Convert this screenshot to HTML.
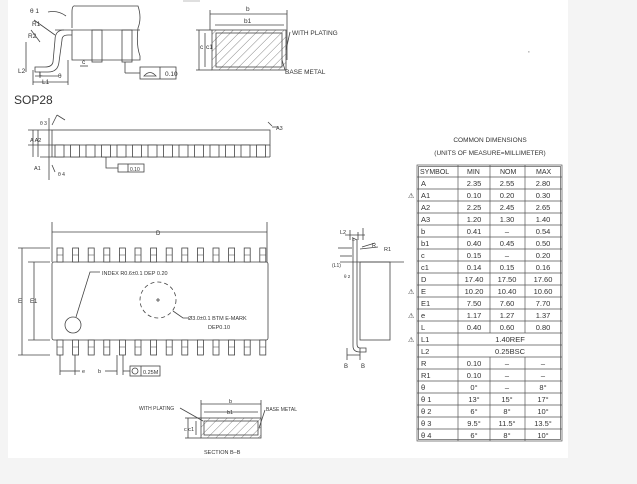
<!DOCTYPE html>
<html><head><meta charset="utf-8"><style>
html,body{margin:0;padding:0;background:#f4f4f4;width:637px;height:484px;overflow:hidden}
svg{display:block}
text{font-family:"Liberation Sans",sans-serif;fill:#333}
</style></head><body>
<svg width="637" height="484" viewBox="0 0 637 484" xmlns="http://www.w3.org/2000/svg">
<defs>
<pattern id="h" width="6" height="6" patternUnits="userSpaceOnUse" patternTransform="rotate(45)">
<line x1="0" y1="0" x2="0" y2="6" stroke="#555" stroke-width="0.7"/></pattern>
</defs>
<rect x="8" y="0" width="560" height="458" fill="#fff"/>
<g stroke="#444" stroke-width="0.8" fill="none">
<path d="M75 6 Q72 5 72 12 L72 28"/>
<path d="M75 6 L138 6 Q142 18 138 28 Q136 45 140 56 L140 60 L72 60 L72 30"/>
<line x1="55" y1="30" x2="140" y2="30"/>
<rect x="92" y="30" width="10" height="32"/>
<rect x="122" y="30" width="10" height="32"/>
<path d="M64 30 Q55 30 55 40 L53 62 Q52 67 45 67 L35 67 L35 72 L48 72 Q58 72 59 62 L62 40 Q62 35 68 35 L72 35"/>
<line x1="68" y1="60" x2="68" y2="85"/>
<line x1="33" y1="70" x2="33" y2="85"/>
<line x1="33" y1="82" x2="68" y2="82"/>
<line x1="40" y1="72" x2="40" y2="78"/>
<line x1="35" y1="76" x2="58" y2="76"/>
<line x1="26" y1="42" x2="26" y2="72"/>
<line x1="31" y1="30" x2="40" y2="42"/>
<line x1="34" y1="20" x2="55" y2="35"/>
<path d="M48 12 Q58 10 66 16"/>
<rect x="140" y="67" width="36" height="12"/>
<line x1="160" y1="67" x2="160" y2="79"/>
<path d="M144 76 Q150 69 156 76 Z"/>
<line x1="125" y1="62" x2="125" y2="73"/><line x1="125" y1="73" x2="140" y2="73"/>
<line x1="80" y1="66" x2="88" y2="66"/>
<line x1="183" y1="1" x2="200" y2="1" stroke="#aaa"/>
<rect x="212" y="30" width="74" height="40" fill="url(#h)"/>
<rect x="216" y="33" width="66" height="34"/>
<line x1="210" y1="14" x2="287" y2="14"/>
<line x1="210" y1="10" x2="210" y2="30"/><line x1="287" y1="10" x2="287" y2="60"/>
<line x1="215" y1="25" x2="284" y2="25"/>
<line x1="196" y1="30" x2="212" y2="30"/><line x1="196" y1="70" x2="212" y2="70"/>
<line x1="199" y1="30" x2="199" y2="70"/><line x1="205" y1="33" x2="205" y2="67"/>
<line x1="290" y1="32" x2="286" y2="50"/>
<line x1="282" y1="60" x2="285" y2="70"/>
<rect x="52" y="130" width="218" height="15"/>
<line x1="52" y1="145" x2="52" y2="157"/>
<line x1="270" y1="145" x2="270" y2="157"/>
<line x1="40" y1="157" x2="270" y2="157"/>
<line x1="28" y1="130" x2="52" y2="130"/>
<line x1="28" y1="145" x2="52" y2="145"/>
<line x1="33" y1="130" x2="33" y2="157"/>
<line x1="38" y1="130" x2="38" y2="157"/>
<line x1="49" y1="118" x2="49" y2="180"/>
<line x1="52" y1="125" x2="57" y2="115"/><line x1="57" y1="115" x2="65" y2="120"/>
<line x1="52" y1="165" x2="55" y2="172"/>
<line x1="268" y1="122" x2="272" y2="126"/><line x1="272" y1="127" x2="278" y2="127"/>
<path d="M106 157 L106 168 L118 168"/>
<rect x="118" y="164" width="26" height="8"/><line x1="128" y1="164" x2="128" y2="172"/>
<rect x="52" y="262" width="216" height="78" rx="2"/>
<line x1="52" y1="222" x2="52" y2="262"/><line x1="267" y1="222" x2="267" y2="262"/>
<line x1="52" y1="232" x2="267" y2="232"/>
<line x1="18" y1="248" x2="50" y2="248"/><line x1="18" y1="355" x2="50" y2="355"/>
<line x1="28" y1="262" x2="50" y2="262"/><line x1="28" y1="340" x2="50" y2="340"/>
<line x1="22" y1="248" x2="22" y2="355"/><line x1="34" y1="262" x2="34" y2="340"/>
<circle cx="73" cy="325" r="8"/>
<circle cx="158" cy="300" r="18" stroke-dasharray="4,3"/>
<line x1="156" y1="300" x2="160" y2="300"/><line x1="158" y1="298" x2="158" y2="302"/>
<path d="M76 317 L90 272 L100 272"/>
<path d="M173 311 L183 318 L188 318"/>
<line x1="60" y1="355" x2="60" y2="375"/><line x1="75" y1="355" x2="75" y2="375"/>
<line x1="60" y1="371" x2="75" y2="371"/><line x1="75" y1="371" x2="80" y2="371"/>
<line x1="117" y1="355" x2="117" y2="375"/><line x1="123" y1="355" x2="123" y2="375"/>
<line x1="105" y1="371" x2="117" y2="371"/><line x1="123" y1="371" x2="130" y2="371"/>
<rect x="130" y="366" width="30" height="10"/><line x1="141" y1="366" x2="141" y2="376"/>
<circle cx="135" cy="371" r="3"/>
<rect x="360" y="262" width="30" height="78"/>
<path d="M353 238 L353 346 Q353 352 360 352 L366 352 L366 348 L360 348 Q357 348 357 344 L357 240 Z"/>
<line x1="340" y1="262" x2="404" y2="262"/><line x1="340" y1="256" x2="352" y2="256"/>
<line x1="338" y1="248" x2="352" y2="248"/>
<line x1="345" y1="235" x2="365" y2="235"/><line x1="350" y1="230" x2="350" y2="240"/>
<line x1="358" y1="232" x2="358" y2="240"/><line x1="363" y1="228" x2="363" y2="240"/>
<line x1="362" y1="247" x2="375" y2="243"/>
<line x1="360" y1="249" x2="378" y2="247"/>
<path d="M347 348 L347 360 M360 348 L360 360 M347 355 L360 355"/>
<rect x="201" y="418" width="60" height="20" fill="url(#h)"/>
<rect x="204" y="421" width="54" height="14"/>
<line x1="201" y1="400" x2="201" y2="418"/><line x1="261" y1="400" x2="261" y2="418"/>
<line x1="201" y1="404" x2="261" y2="404"/>
<line x1="204" y1="412" x2="258" y2="412"/>
<line x1="185" y1="418" x2="201" y2="418"/><line x1="185" y1="438" x2="201" y2="438"/>
<line x1="188" y1="418" x2="188" y2="438"/><line x1="196" y1="421" x2="196" y2="435"/>
<line x1="180" y1="408" x2="203" y2="421"/>
<line x1="265" y1="410" x2="259" y2="428"/>
</g>
<g stroke="#444" stroke-width="0.8" fill="#fff">
<rect x="55" y="145" width="9" height="12"/><rect x="70.5" y="145" width="9" height="12"/><rect x="86" y="145" width="9" height="12"/><rect x="101.5" y="145" width="9" height="12"/><rect x="117" y="145" width="9" height="12"/><rect x="132.5" y="145" width="9" height="12"/><rect x="148" y="145" width="9" height="12"/><rect x="163.5" y="145" width="9" height="12"/><rect x="179" y="145" width="9" height="12"/><rect x="194.5" y="145" width="9" height="12"/><rect x="210" y="145" width="9" height="12"/><rect x="225.5" y="145" width="9" height="12"/><rect x="241" y="145" width="9" height="12"/><rect x="256.5" y="145" width="9" height="12"/>
<rect x="57" y="248" width="6" height="14"/><rect x="72.6" y="248" width="6" height="14"/><rect x="88.2" y="248" width="6" height="14"/><rect x="103.8" y="248" width="6" height="14"/><rect x="119.4" y="248" width="6" height="14"/><rect x="135" y="248" width="6" height="14"/><rect x="150.6" y="248" width="6" height="14"/><rect x="166.2" y="248" width="6" height="14"/><rect x="181.8" y="248" width="6" height="14"/><rect x="197.4" y="248" width="6" height="14"/><rect x="213" y="248" width="6" height="14"/><rect x="228.6" y="248" width="6" height="14"/><rect x="244.2" y="248" width="6" height="14"/><rect x="259.8" y="248" width="6" height="14"/>
<rect x="57" y="340" width="6" height="15"/><rect x="72.6" y="340" width="6" height="15"/><rect x="88.2" y="340" width="6" height="15"/><rect x="103.8" y="340" width="6" height="15"/><rect x="119.4" y="340" width="6" height="15"/><rect x="135" y="340" width="6" height="15"/><rect x="150.6" y="340" width="6" height="15"/><rect x="166.2" y="340" width="6" height="15"/><rect x="181.8" y="340" width="6" height="15"/><rect x="197.4" y="340" width="6" height="15"/><rect x="213" y="340" width="6" height="15"/><rect x="228.6" y="340" width="6" height="15"/><rect x="244.2" y="340" width="6" height="15"/><rect x="259.8" y="340" width="6" height="15"/>
</g>
<g stroke="#444" stroke-width="0.6">
<line x1="57" y1="255" x2="266" y2="255" stroke-dasharray="6,9.6"/>
<line x1="57" y1="347" x2="266" y2="347" stroke-dasharray="6,9.6"/>
</g>
<g font-size="6.5">
<text x="30" y="13">θ 1</text><text x="32" y="26">R1</text><text x="28" y="38">R2</text>
<text x="18" y="73">L2</text><text x="39" y="76">L</text><text x="42" y="84">L1</text>
<text x="58" y="78">θ</text><text x="82" y="64">c</text>
<text x="165" y="76">0.10</text>
<text x="246" y="11">b</text><text x="244" y="23">b1</text>
<text x="200" y="49">c</text><text x="206" y="49">c1</text>
<text x="292" y="35">WITH PLATING</text><text x="285" y="74">BASE METAL</text>
<text x="528" y="52">,</text>
<text x="14" y="104" font-size="12" fill="#222">SOP28</text>
<text x="40" y="125" font-size="5">θ 3</text><text x="30" y="142" font-size="5.5">A A2</text>
<text x="34" y="170" font-size="5.5">A1</text><text x="58" y="176" font-size="5">θ 4</text>
<text x="276" y="130" font-size="5.5">A3</text>
<text x="130" y="171" font-size="5">0.10</text>
<text x="156" y="235" font-size="6">D</text>
<text x="18" y="303" font-size="6">E</text><text x="30" y="303" font-size="6">E1</text>
<text x="102" y="275" font-size="5.5">INDEX R0.6±0.1 DEP 0.20</text>
<text x="188" y="320" font-size="5.5">Ø3.0±0.1 BTM E-MARK</text>
<text x="208" y="329" font-size="5.5">DEP0.10</text>
<text x="82" y="373" font-size="5.5">e</text><text x="98" y="373" font-size="5.5">b</text>
<text x="143" y="374" font-size="5.5">0.25M</text>
<text x="340" y="234" font-size="5.5">L2</text><text x="352" y="241" font-size="5.5">L</text>
<text x="372" y="247" font-size="5.5">R</text><text x="384" y="251" font-size="5.5">R1</text>
<text x="332" y="267" font-size="5">(L1)</text><text x="344" y="278" font-size="4.5">θ 2</text>
<text x="344" y="368" font-size="6">B</text><text x="361" y="368" font-size="6">B</text>
<text x="139" y="410" font-size="5">WITH PLATING</text><text x="266" y="411" font-size="5">BASE METAL</text>
<text x="229" y="403" font-size="5.5">b</text><text x="227" y="414" font-size="5.5">b1</text>
<text x="184" y="431" font-size="5.5">c c1</text>
<text x="204" y="454" font-size="5.5">SECTION B–B</text>
<text x="490" y="142" font-size="6.5" text-anchor="middle">COMMON DIMENSIONS</text>
<text x="490" y="155" font-size="6.5" text-anchor="middle">(UNITS OF MEASURE=MILLIMETER)</text>
</g>
<g stroke="#555" stroke-width="0.7" fill="none">
<rect x="417" y="165" width="145" height="276"/>
<rect x="418.5" y="166.5" width="142" height="273"/>
<line x1="458" y1="165" x2="458" y2="441"/>
<line x1="490" y1="165" x2="490" y2="333"/><line x1="490" y1="357" x2="490" y2="441"/>
<line x1="525" y1="165" x2="525" y2="333"/><line x1="525" y1="357" x2="525" y2="441"/>
<path d="M417 177H562M417 189H562M417 201H562M417 213H562M417 225H562M417 237H562M417 249H562M417 261H562M417 273H562M417 285H562M417 297H562M417 309H562M417 321H562M417 333H562M417 345H562M417 357H562M417 369H562M417 381H562M417 393H562M417 405H562M417 417H562M417 429H562"/>
</g>
<g font-size="7" fill="#333">
<text x="420" y="174">SYMBOL</text><text x="467" y="174">MIN</text><text x="500" y="174">NOM</text><text x="536" y="174">MAX</text>
</g>
<g font-size="7.5" text-anchor="middle">
<g text-anchor="start"><text x="421" y="186">A</text><text x="421" y="198">A1</text><text x="421" y="210">A2</text><text x="421" y="222">A3</text><text x="421" y="234">b</text><text x="421" y="246">b1</text><text x="421" y="258">c</text><text x="421" y="270">c1</text><text x="421" y="282">D</text><text x="421" y="294">E</text><text x="421" y="306">E1</text><text x="421" y="318">e</text><text x="421" y="330">L</text><text x="421" y="342">L1</text><text x="421" y="354">L2</text><text x="421" y="366">R</text><text x="421" y="378">R1</text><text x="421" y="390">θ</text><text x="421" y="402">θ 1</text><text x="421" y="414">θ 2</text><text x="421" y="426">θ 3</text><text x="421" y="438">θ 4</text>
<text x="408" y="198" font-size="7">⚠</text><text x="408" y="294" font-size="7">⚠</text><text x="408" y="318" font-size="7">⚠</text><text x="408" y="342" font-size="7">⚠</text></g>
<text x="474" y="186">2.35</text><text x="507" y="186">2.55</text><text x="543" y="186">2.80</text>
<text x="474" y="198">0.10</text><text x="507" y="198">0.20</text><text x="543" y="198">0.30</text>
<text x="474" y="210">2.25</text><text x="507" y="210">2.45</text><text x="543" y="210">2.65</text>
<text x="474" y="222">1.20</text><text x="507" y="222">1.30</text><text x="543" y="222">1.40</text>
<text x="474" y="234">0.41</text><text x="507" y="234">–</text><text x="543" y="234">0.54</text>
<text x="474" y="246">0.40</text><text x="507" y="246">0.45</text><text x="543" y="246">0.50</text>
<text x="474" y="258">0.15</text><text x="507" y="258">–</text><text x="543" y="258">0.20</text>
<text x="474" y="270">0.14</text><text x="507" y="270">0.15</text><text x="543" y="270">0.16</text>
<text x="474" y="282">17.40</text><text x="507" y="282">17.50</text><text x="543" y="282">17.60</text>
<text x="474" y="294">10.20</text><text x="507" y="294">10.40</text><text x="543" y="294">10.60</text>
<text x="474" y="306">7.50</text><text x="507" y="306">7.60</text><text x="543" y="306">7.70</text>
<text x="474" y="318">1.17</text><text x="507" y="318">1.27</text><text x="543" y="318">1.37</text>
<text x="474" y="330">0.40</text><text x="507" y="330">0.60</text><text x="543" y="330">0.80</text>
<text x="510" y="342">1.40REF</text><text x="510" y="354">0.25BSC</text>
<text x="474" y="366">0.10</text><text x="507" y="366">–</text><text x="543" y="366">–</text>
<text x="474" y="378">0.10</text><text x="507" y="378">–</text><text x="543" y="378">–</text>
<text x="474" y="390">0°</text><text x="507" y="390">–</text><text x="543" y="390">8°</text>
<text x="474" y="402">13°</text><text x="507" y="402">15°</text><text x="543" y="402">17°</text>
<text x="474" y="414">6°</text><text x="507" y="414">8°</text><text x="543" y="414">10°</text>
<text x="474" y="426">9.5°</text><text x="507" y="426">11.5°</text><text x="543" y="426">13.5°</text>
<text x="474" y="438">6°</text><text x="507" y="438">8°</text><text x="543" y="438">10°</text>
</g>
</svg>
</body></html>
